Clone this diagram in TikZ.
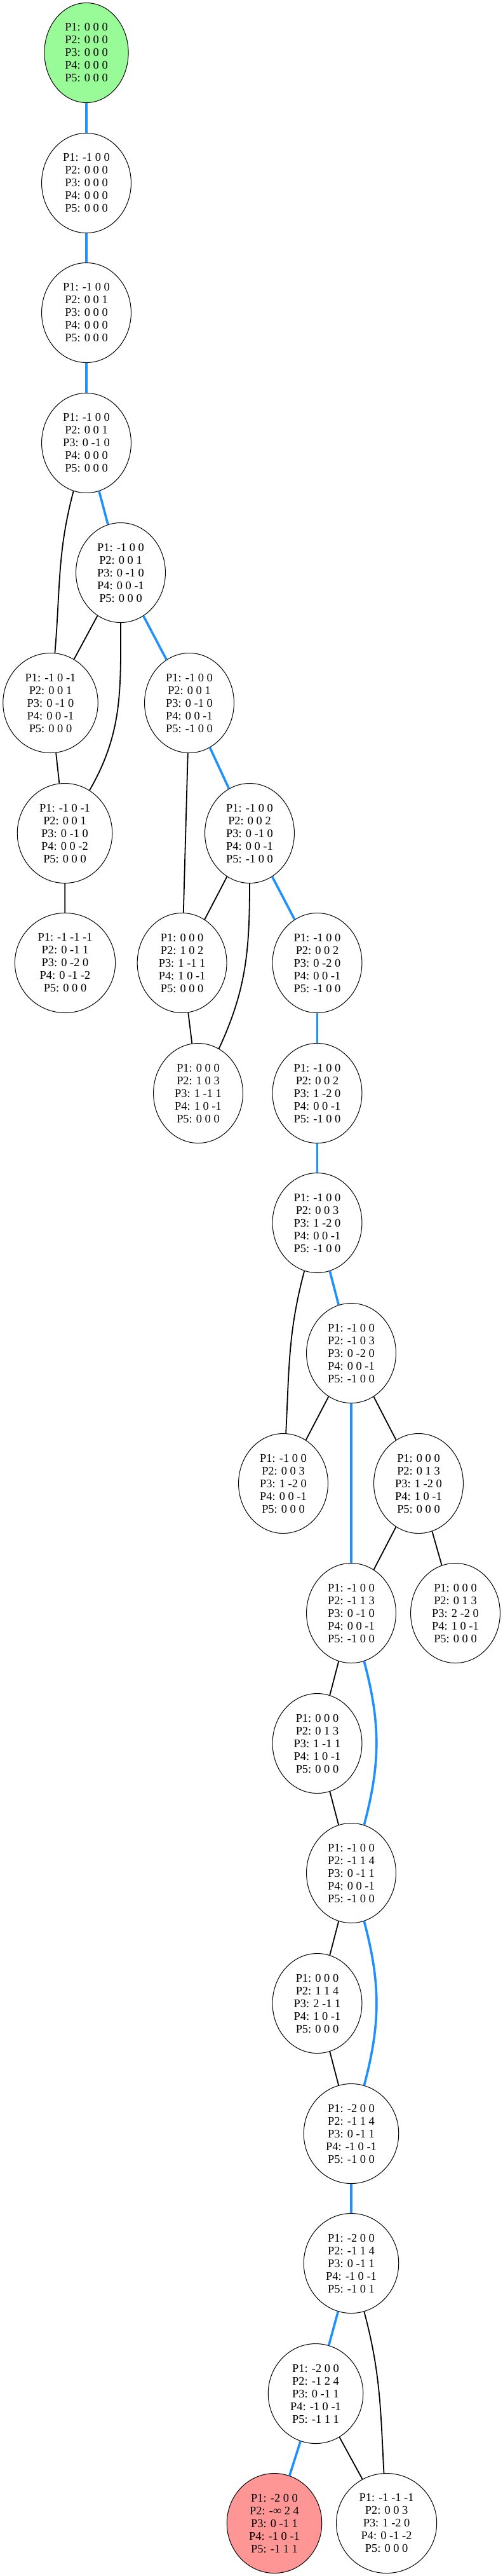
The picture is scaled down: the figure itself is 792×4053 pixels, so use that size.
\documentclass[tikz,border=0pt]{standalone}
\usepackage{fontspec}
\setmainfont{Liberation Serif}
\usetikzlibrary{shapes.geometric}
\definecolor{dodger}{RGB}{30,144,255}
\definecolor{startgreen}{RGB}{152,251,152}
\definecolor{goalred}{RGB}{255,150,150}
\begin{document}
\begin{tikzpicture}[x=1pt,y=1pt,
	state/.style={ellipse,draw,line width=1pt,fill=white,inner xsep=13pt,inner ysep=2pt,
		minimum height=157pt,align=center,font=\fontsize{18.4}{20}\selectfont},
	hot/.style={draw=dodger,line width=3.6pt},
	side/.style={draw=black,line width=1.8pt}]
\useasboundingbox (0,0) rectangle (792,-4053);

% states
\node[state,fill=startgreen] (s1) at (136,-83) {P1: 0 0 0\\P2: 0 0 0\\P3: 0 0 0\\P4: 0 0 0\\P5: 0 0 0};
\node[state] (s2) at (136,-288) {P1: -1 0 0\\P2: 0 0 0\\P3: 0 0 0\\P4: 0 0 0\\P5: 0 0 0};
\node[state] (s3) at (136,-492) {P1: -1 0 0\\P2: 0 0 1\\P3: 0 0 0\\P4: 0 0 0\\P5: 0 0 0};
\node[state] (s4) at (136,-697) {P1: -1 0 0\\P2: 0 0 1\\P3: 0 -1 0\\P4: 0 0 0\\P5: 0 0 0};
\node[state] (s5) at (190,-901) {P1: -1 0 0\\P2: 0 0 1\\P3: 0 -1 0\\P4: 0 0 -1\\P5: 0 0 0};
\node[state] (s6a) at (79.5,-1106) {P1: -1 0 -1\\P2: 0 0 1\\P3: 0 -1 0\\P4: 0 0 -1\\P5: 0 0 0};
\node[state] (s6b) at (298,-1106) {P1: -1 0 0\\P2: 0 0 1\\P3: 0 -1 0\\P4: 0 0 -1\\P5: -1 0 0};
\node[state] (s7a) at (102,-1311) {P1: -1 0 -1\\P2: 0 0 1\\P3: 0 -1 0\\P4: 0 0 -2\\P5: 0 0 0};
\node[state] (s7b) at (393,-1311) {P1: -1 0 0\\P2: 0 0 2\\P3: 0 -1 0\\P4: 0 0 -1\\P5: -1 0 0};
\node[state] (s8a) at (102.5,-1515) {P1: -1 -1 -1\\P2: 0 -1 1\\P3: 0 -2 0\\P4: 0 -1 -2\\P5: 0 0 0};
\node[state] (s8b) at (286.6,-1515) {P1: 0 0 0\\P2: 1 0 2\\P3: 1 -1 1\\P4: 1 0 -1\\P5: 0 0 0};
\node[state] (s8c) at (499.5,-1515) {P1: -1 0 0\\P2: 0 0 2\\P3: 0 -2 0\\P4: 0 0 -1\\P5: -1 0 0};
\node[state] (s9b) at (312,-1720) {P1: 0 0 0\\P2: 1 0 3\\P3: 1 -1 1\\P4: 1 0 -1\\P5: 0 0 0};
\node[state] (s9c) at (499.5,-1720) {P1: -1 0 0\\P2: 0 0 2\\P3: 1 -2 0\\P4: 0 0 -1\\P5: -1 0 0};
\node[state] (s10) at (499.5,-1924) {P1: -1 0 0\\P2: 0 0 3\\P3: 1 -2 0\\P4: 0 0 -1\\P5: -1 0 0};
\node[state] (s11) at (553,-2129) {P1: -1 0 0\\P2: -1 0 3\\P3: 0 -2 0\\P4: 0 0 -1\\P5: -1 0 0};
\node[state] (s12a) at (446,-2334) {P1: -1 0 0\\P2: 0 0 3\\P3: 1 -2 0\\P4: 0 0 -1\\P5: 0 0 0};
\node[state] (s12b) at (659,-2334) {P1: 0 0 0\\P2: 0 1 3\\P3: 1 -2 0\\P4: 1 0 -1\\P5: 0 0 0};
\node[state] (s13a) at (553,-2538) {P1: -1 0 0\\P2: -1 1 3\\P3: 0 -1 0\\P4: 0 0 -1\\P5: -1 0 0};
\node[state] (s13b) at (717,-2538) {P1: 0 0 0\\P2: 0 1 3\\P3: 2 -2 0\\P4: 1 0 -1\\P5: 0 0 0};
\node[state] (s14) at (499.5,-2743) {P1: 0 0 0\\P2: 0 1 3\\P3: 1 -1 1\\P4: 1 0 -1\\P5: 0 0 0};
\node[state] (s15) at (553,-2947) {P1: -1 0 0\\P2: -1 1 4\\P3: 0 -1 1\\P4: 0 0 -1\\P5: -1 0 0};
\node[state] (s16) at (499.5,-3152) {P1: 0 0 0\\P2: 1 1 4\\P3: 2 -1 1\\P4: 1 0 -1\\P5: 0 0 0};
\node[state] (s17) at (553,-3357) {P1: -2 0 0\\P2: -1 1 4\\P3: 0 -1 1\\P4: -1 0 -1\\P5: -1 0 0};
\node[state] (s18) at (553,-3561) {P1: -2 0 0\\P2: -1 1 4\\P3: 0 -1 1\\P4: -1 0 -1\\P5: -1 0 1};
\node[state] (s19) at (497,-3766) {P1: -2 0 0\\P2: -1 2 4\\P3: 0 -1 1\\P4: -1 0 -1\\P5: -1 1 1};
\node[state,fill=goalred] (s20a) at (432,-3970) {P1: -2 0 0\\P2: -∞ 2 4\\P3: 0 -1 1\\P4: -1 0 -1\\P5: -1 1 1};
\node[state] (s20b) at (608.6,-3970) {P1: -1 -1 -1\\P2: 0 0 3\\P3: 1 -2 0\\P4: 0 -1 -2\\P5: 0 0 0};

% solution path
\draw[hot] (s1) -- (s2);
\draw[hot] (s2) -- (s3);
\draw[hot] (s3) -- (s4);
\draw[hot] (s4) -- (s5);
\draw[hot] (s5) -- (s6b);
\draw[hot] (s6b) -- (s7b);
\draw[hot] (s7b) -- (s8c);
\draw[hot] (s8c) -- (s9c);
\draw[hot] (s9c) -- (s10);
\draw[hot] (s10) -- (s11);
\draw[hot] (s11) -- (s13a);
\draw[hot] (s13a) to[out=-75,in=75] (s15);
\draw[hot] (s15) to[out=-75,in=75] (s17);
\draw[hot] (s17) -- (s18);
\draw[hot] (s18) -- (s19);
\draw[hot] (s19) -- (s20a);

% other moves
\draw[side] (s4) to[out=-105,in=85] (s6a);
\draw[side] (s5) -- (s6a);
\draw[side] (s5) to[out=-90,in=60] (s7a);
\draw[side] (s6a) -- (s7a);
\draw[side] (s7a) -- (s8a);
\draw[side] (s6b) -- (s8b);
\draw[side] (s7b) -- (s8b);
\draw[side] (s7b) to[out=-90,in=65] (s9b);
\draw[side] (s8b) -- (s9b);
\draw[side] (s10) to[out=-105,in=87] (s12a);
\draw[side] (s11) -- (s12a);
\draw[side] (s11) -- (s12b);
\draw[side] (s12b) -- (s13a);
\draw[side] (s12b) -- (s13b);
\draw[side] (s13a) -- (s14);
\draw[side] (s14) -- (s15);
\draw[side] (s15) -- (s16);
\draw[side] (s16) -- (s17);
\draw[side] (s18) to[out=-75,in=93] (s20b);
\draw[side] (s19) -- (s20b);
\end{tikzpicture}
\end{document}
